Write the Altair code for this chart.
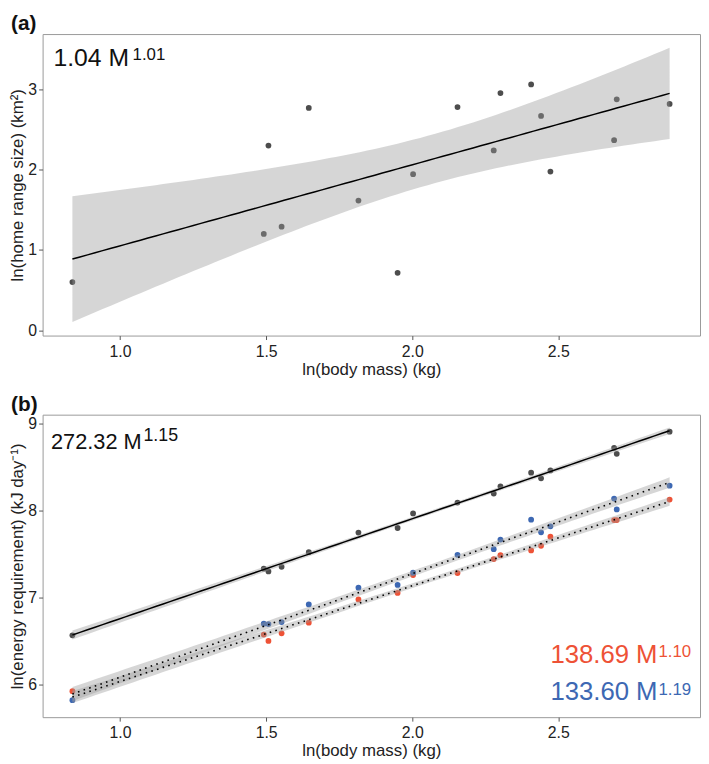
import altair as alt
import numpy as np
import pandas as pd

# ---- data ----
mass = [0.837, 1.492, 1.508, 1.553, 1.646, 1.816, 1.950, 2.003, 2.155,
        2.279, 2.302, 2.407, 2.441, 2.473, 2.691, 2.700, 2.881]
home_range = [0.60, 1.20, 2.30, 1.29, 2.77, 1.615, 0.715, 1.944, 2.78,
              2.24, 2.955, 3.062, 2.67, 1.977, 2.367, 2.877, 2.82]
energy_total = [6.569, 7.333, 7.302, 7.355, 7.523, 7.747, 7.800, 7.967, 8.092,
                8.195, 8.278, 8.434, 8.370, 8.461, 8.719, 8.651, 8.905]
energy_red = [5.928, 6.577, 6.505, 6.592, 6.714, 6.980, 7.055, 7.260, 7.283,
              7.443, 7.488, 7.542, 7.595, 7.701, 7.891, 7.891, 8.126]
energy_blue = [5.825, 6.702, 6.698, 6.721, 6.923, 7.116, 7.147, 7.287, 7.492,
               7.557, 7.667, 7.895, 7.750, 7.819, 8.138, 8.013, 8.286]

series_names = ["total", "red", "blue"]
series_colors = ["#4d4d4d", "#ee5236", "#3d68b3"]

T_CRIT = 2.131  # t(0.975, df = 15) for the 95% confidence band


def fit_band(x, y, label):
    x = np.asarray(x, float)
    y = np.asarray(y, float)
    n = len(x)
    b1, b0 = np.polyfit(x, y, 1)
    resid = y - (b0 + b1 * x)
    s = np.sqrt(np.sum(resid ** 2) / (n - 2))
    xm = x.mean()
    sxx = np.sum((x - xm) ** 2)
    grid = np.linspace(x.min(), x.max(), 80)
    fit = b0 + b1 * grid
    se = s * np.sqrt(1.0 / n + (grid - xm) ** 2 / sxx)
    return pd.DataFrame({"mass": grid, "fit": fit, "lo": fit - T_CRIT * se,
                         "hi": fit + T_CRIT * se, "series": label})


FONT = "Liberation Sans, Arial"
W = 665
LAB = 16
TTL = 17

xscale = alt.Scale(domain=[0.735, 2.985], nice=False, zero=False)


def x_axis():
    return alt.Axis(values=[1.0, 1.5, 2.0, 2.5], format=".1f", grid=False,
                    domain=False, tickColor="#555", tickSize=4,
                    labelFontSize=LAB, titleFontSize=TTL, labelColor="#222",
                    titleColor="#222", titleFontWeight="normal",
                    labelPadding=4, titlePadding=2,
                    title="ln(body mass) (kg)")


def y_axis(values, title):
    return alt.Axis(values=values, format="d", grid=False, domain=False,
                    tickColor="#555", tickSize=4, labelFontSize=LAB,
                    titleFontSize=TTL, labelColor="#222", titleColor="#222",
                    titleFontWeight="normal", labelPadding=2, titlePadding=1,
                    title=title)


# ---------------- panel (a) ----------------
df_a = pd.DataFrame({"mass": mass, "home": home_range})
fit_a = fit_band(mass, home_range, "home")
yscale_a = alt.Scale(domain=[-0.067, 3.69], nice=False, zero=False)

pts_a = alt.Chart(df_a).mark_circle(size=34, color="#4d4d4d", opacity=1).encode(
    x=alt.X("mass:Q", scale=xscale, axis=x_axis()),
    y=alt.Y("home:Q", scale=yscale_a,
            axis=y_axis([0, 1, 2, 3], "ln(home range size) (km²)")),
)
band_a = alt.Chart(fit_a).mark_area(color="#999999", opacity=0.4).encode(
    x="mass:Q", y="lo:Q", y2="hi:Q")
line_a = alt.Chart(fit_a).mark_line(color="black", strokeWidth=1.5).encode(
    x="mass:Q", y="fit:Q")

ann_a_main = alt.Chart().mark_text(text="1.04 M", fontSize=25, align="left",
                                   baseline="alphabetic", color="#111").encode(
    x=alt.value(11), y=alt.value(32))
ann_a_sup = alt.Chart().mark_text(text="1.01", fontSize=17, align="left",
                                  baseline="alphabetic", color="#111").encode(
    x=alt.value(91), y=alt.value(26.5))

panel_a = alt.layer(pts_a, band_a, line_a, ann_a_main, ann_a_sup).properties(
    width=W, height=305,
    title=alt.TitleParams("(a)", anchor="start", fontSize=21, fontWeight="bold",
                          offset=0, dx=2, color="#111"))

# ---------------- panel (b) ----------------
df_b = pd.DataFrame({
    "mass": mass * 3,
    "energy": energy_total + energy_red + energy_blue,
    "series": ["total"] * len(mass) + ["red"] * len(mass) + ["blue"] * len(mass),
})
fits_b = pd.concat([fit_band(mass, energy_total, "total"),
                    fit_band(mass, energy_red, "red"),
                    fit_band(mass, energy_blue, "blue")], ignore_index=True)
yscale_b = alt.Scale(domain=[5.63, 9.10], nice=False, zero=False)

pts_b = alt.Chart(df_b).mark_circle(size=34, opacity=1).encode(
    x=alt.X("mass:Q", scale=xscale, axis=x_axis()),
    y=alt.Y("energy:Q", scale=yscale_b,
            axis=y_axis([6, 7, 8, 9], "ln(energy requirement) (kJ day⁻¹)")),
    color=alt.Color("series:N", scale=alt.Scale(domain=series_names,
                                                range=series_colors),
                    legend=None),
)
band_b = alt.Chart(fits_b).mark_area(color="#999999", opacity=0.4).encode(
    x="mass:Q", y="lo:Q", y2="hi:Q", detail="series:N")
line_total = alt.Chart(fits_b).transform_filter(
    alt.datum.series == "total").mark_line(color="black", strokeWidth=1.5).encode(
    x="mass:Q", y="fit:Q")
line_dotted = alt.Chart(fits_b).transform_filter(
    alt.datum.series != "total").mark_line(
    color="black", strokeWidth=1.6, strokeDash=[1.6, 4.4]).encode(
    x="mass:Q", y="fit:Q", detail="series:N")

ann_b1 = alt.Chart().mark_text(text="272.32 M", fontSize=22, align="left",
                               baseline="alphabetic", color="#111").encode(
    x=alt.value(8.5), y=alt.value(35))
ann_b1s = alt.Chart().mark_text(text="1.15", fontSize=18, align="left",
                                baseline="alphabetic", color="#111").encode(
    x=alt.value(102), y=alt.value(27))
ann_b2 = alt.Chart().mark_text(text="138.69 M", fontSize=26, align="right",
                               baseline="alphabetic", color="#ee5236").encode(
    x=alt.value(622), y=alt.value(251.7))
ann_b2s = alt.Chart().mark_text(text="1.10", fontSize=17, align="right",
                                baseline="alphabetic", color="#ee5236").encode(
    x=alt.value(656), y=alt.value(245))
ann_b3 = alt.Chart().mark_text(text="133.60 M", fontSize=26, align="right",
                               baseline="alphabetic", color="#3d68b3").encode(
    x=alt.value(622), y=alt.value(288.3))
ann_b3s = alt.Chart().mark_text(text="1.19", fontSize=17, align="right",
                                baseline="alphabetic", color="#3d68b3").encode(
    x=alt.value(656), y=alt.value(283.3))

panel_b = alt.layer(pts_b, band_b, line_total, line_dotted,
                    ann_b1, ann_b1s, ann_b2, ann_b2s, ann_b3, ann_b3s).properties(
    width=W, height=306,
    title=alt.TitleParams("(b)", anchor="start", fontSize=21, fontWeight="bold",
                          offset=0, dx=2, color="#111"))

chart = alt.vconcat(panel_a, panel_b, spacing=15).properties(
    padding={"left": 0, "top": 0, "right": 0, "bottom": 0}
).configure(font=FONT).configure_view(
    stroke="#9a9a9a", strokeWidth=1
)

chart.save("out.html", embed_options={"renderer": "svg", "actions": False})
